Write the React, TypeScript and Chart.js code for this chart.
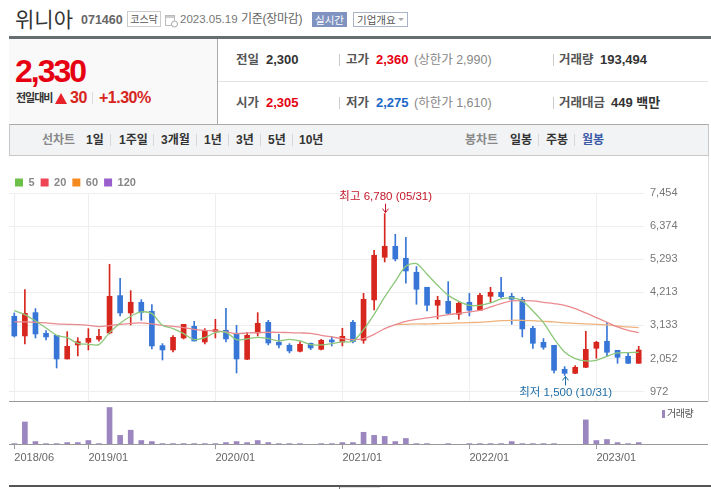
import React, { useEffect, useRef } from "react";
import { Chart, registerables } from "chart.js";

Chart.register(...registerables);

const KR = '"Liberation Sans","Noto Sans CJK KR",sans-serif';

const months: string[] = [
  "2018/06","2018/07","2018/08","2018/09","2018/10","2018/11","2018/12",
  "2019/01","2019/02","2019/03","2019/04","2019/05","2019/06","2019/07","2019/08","2019/09","2019/10","2019/11","2019/12",
  "2020/01","2020/02","2020/03","2020/04","2020/05","2020/06","2020/07","2020/08","2020/09","2020/10","2020/11","2020/12",
  "2021/01","2021/02","2021/03","2021/04","2021/05","2021/06","2021/07","2021/08","2021/09","2021/10","2021/11","2021/12",
  "2022/01","2022/02","2022/03","2022/04","2022/05","2022/06","2022/07","2022/08","2022/09","2022/10","2022/11","2022/12",
  "2023/01","2023/02","2023/03","2023/04","2023/05",
];
const xTickLabels = ["2018/06", "2019/01", "2020/01", "2021/01", "2022/01", "2023/01"];
const yTickValues = [972, 2052, 3133, 4213, 5293, 6374, 7454];

const opens = [3431,2789,3550,2876,2810,2038,2495,2582,2680,2887,4105,3539,3888,3594,2473,2332,2723,3104,2593,2930,2974,2865,
  2027,2887,3235,2582,2484,2288,2549,2353,2647,2593,3235,2647,3964,5356,5715,5324,4867,4377,3790,3920,3496,3888,
  3626,4083,4214,4083,3985,3039,2582,2484,1701,1570,1766,2386,2615,2321,2125,1896];
const highs = [3539,4301,3681,2963,2810,2930,2734,3028,3006,5128,4671,4268,3975,3811,2538,2800,3169,3267,3028,3333,3692,3137,
  2897,3550,3300,2843,2538,2604,2560,2680,2767,3039,3300,4181,5585,6780,6107,6009,5052,4377,4083,4562,3898,4181,
  4181,4377,4704,4181,4051,3104,2702,2484,1788,1820,2941,2615,3235,2321,2223,2451];
const lows = [2756,2528,2723,2658,1744,2038,2136,2332,2615,2854,3441,3148,3300,2364,2005,2266,2691,2625,2528,2723,2593,1581,
  2016,2789,2495,2397,2234,2266,2343,2332,2462,2462,2560,2549,3637,5204,5237,4508,3822,3605,3344,3485,3333,3441,
  3626,3877,4040,3169,2756,2386,2353,1581,1500,1559,1755,2060,2125,1896,1896,1896];
const closes = [2789,3528,2854,2756,2038,2451,2604,2712,2778,4083,3539,3888,3561,2462,2332,2745,3169,2625,2963,2963,2691,2038,
  2810,3202,2560,2495,2299,2517,2397,2647,2593,2778,2604,3985,5422,5715,5302,4910,4312,3790,3953,3528,3855,3626,
  4116,4214,4072,3985,3017,2549,2419,1668,1570,1766,2353,2582,2256,2092,1896,2330];

const ma5 = [3616,3485,3278,3050,2810,2734,2549,2517,2506,2897,3202,3431,3572,3518,3137,3028,2865,2669,2734,2897,2908,2669,
  2691,2745,2702,2625,2680,2625,2506,2495,2538,2593,2615,2995,3496,4062,4573,5063,5150,4801,4442,4116,3920,3790,
  3790,3866,3996,4029,3931,3605,3224,2702,2266,2049,1973,1994,2125,2234,2245,2256];
const ma20 = [3246,3246,3235,3213,3180,3169,3159,3137,3093,3126,3169,3202,3213,3180,3137,3104,3060,3006,2974,2952,2919,2865,
  2887,2897,2908,2908,2897,2887,2876,2810,2756,2702,2669,2702,2843,3028,3159,3267,3333,3376,3431,3485,3528,3572,
  3626,3735,3844,3931,3942,3931,3888,3844,3790,3681,3539,3387,3235,3082,2974,2897];
const ma60 = [...Array(36).fill(null),3159,3169,3180,3180,3191,3202,3213,3224,
  3235,3256,3289,3300,3300,3289,3267,3246,3213,3202,3180,3169,3148,3115,3082,3060];
const ma120: (number | null)[] = [];

const volumes = [400,6700,1000,400,400,700,700,1300,400,10900,2800,4300,1300,1000,400,400,400,400,400,400,700,1000,
  700,1300,700,400,400,400,100,400,400,700,700,3700,2800,2500,1000,1900,400,400,100,400,100,400,
  400,400,400,1000,400,400,400,400,100,100,7300,1300,1600,700,400,700];

const RED = "#d7261e";
const BLUE = "#3776d6";
const GRID = "#eeeeee";
const TICK = "#777777";
const LEFT = 9;
const RIGHT_GUTTER = 67;

const legendItems = [
  { text: "5", color: "#6cbf47" },
  { text: "20", color: "#ee4455" },
  { text: "60", color: "#f58a1f" },
  { text: "120", color: "#9a5fcc" },
];

const legendHeight = {
  id: "legendHeight",
  beforeInit(chart: any) {
    const fit = chart.legend.fit;
    chart.legend.fit = function () {
      fit.call(this);
      this.height = 22;
    };
  },
};

const markers = {
  id: "markers",
  afterDatasetsDraw(chart: any) {
    const { ctx, scales } = chart;
    const hi = highs.indexOf(Math.max(...highs));
    const lo = lows.indexOf(Math.min(...lows));
    const draw = (i: number, value: number, text: string, color: string, dir: number) => {
      const x = scales.x.getPixelForValue(i);
      const y = scales.y.getPixelForValue(value);
      const tip = y + dir * 1;
      const tail = y + dir * 10;
      ctx.save();
      ctx.strokeStyle = color;
      ctx.lineWidth = 1;
      ctx.beginPath();
      ctx.moveTo(Math.round(x) + 0.5, tip);
      ctx.lineTo(Math.round(x) + 0.5, tail);
      ctx.moveTo(Math.round(x) - 2.5, tip + dir * 4);
      ctx.lineTo(Math.round(x) + 0.5, tip);
      ctx.lineTo(Math.round(x) + 3.5, tip + dir * 4);
      ctx.stroke();
      ctx.fillStyle = color;
      ctx.font = `11.5px ${KR}`;
      ctx.textAlign = "center";
      ctx.textBaseline = "middle";
      ctx.fillText(text, x + 1, tail + dir * 7);
      ctx.restore();
    };
    draw(hi, highs[hi], "최고 6,780 (05/31)", "#c4162a", -1);
    draw(lo, lows[lo], "최저 1,500 (10/31)", "#1f6ea6", 1);
  },
};

const pos = (x: number, y: number, extra: React.CSSProperties = {}): React.CSSProperties => ({
  position: "absolute",
  left: x,
  top: y,
  whiteSpace: "nowrap",
  ...extra,
});

const T = ({ x, cy, size = 12, color = "#555", bold = false, sp = 0, children }: any) => (
  <span
    style={pos(x, cy - 10, {
      fontFamily: KR,
      fontSize: size,
      color,
      fontWeight: bold ? 700 : 400,
      letterSpacing: sp,
      lineHeight: "20px",
    })}
  >
    {children}
  </span>
);

const Sep = ({ x, y, h, c = "#ccc" }: any) => <div style={pos(x, y, { width: 1, height: h, background: c })} />;

export default function App() {
  const topRef = useRef<HTMLCanvasElement>(null);
  const botRef = useRef<HTMLCanvasElement>(null);

  useEffect(() => {
    const candleColor = (c: any) => (closes[c.dataIndex] >= opens[c.dataIndex] ? RED : BLUE);
    const keepTicks = (axis: any) => {
      axis.ticks = axis.ticks.filter((t: any) => xTickLabels.includes(months[t.value]));
    };
    const line = (label: string, data: any[], color: string) => ({
      type: "line" as const,
      label,
      data,
      borderColor: color,
      backgroundColor: color,
      borderWidth: 1.3,
      pointRadius: 0,
      tension: 0.3,
      order: 1,
    });
    const top = new Chart(topRef.current!, {
      type: "bar",
      data: {
        labels: months,
        datasets: [
          {
            label: "wick",
            data: lows.map((l, i) => [l, highs[i]]),
            backgroundColor: candleColor,
            barThickness: 1,
            grouped: false,
            borderSkipped: false,
            order: 3,
          },
          {
            label: "body",
            data: opens.map((o, i) => [o, closes[i]]),
            backgroundColor: candleColor,
            barThickness: 5,
            minBarLength: 2,
            grouped: false,
            borderSkipped: false,
            order: 2,
          },
          line("5", ma5, "#8cc77a"),
          line("20", ma20, "#e98a8f"),
          line("60", ma60, "#eeb27d"),
          line("120", ma120, "#b596d8"),
        ] as any,
      },
      options: {
        animation: false,
        responsive: false,
        events: [],
        layout: { padding: { left: LEFT, right: 0, top: 1, bottom: 1 } },
        plugins: {
          tooltip: { enabled: false },
          legend: {
            position: "top",
            align: "start",
            labels: {
              boxWidth: 8,
              boxHeight: 8,
              padding: 6,
              color: "#888888",
              font: { family: KR, size: 11, weight: "bold" },
              generateLabels: () =>
                legendItems.map((l) => ({
                  text: l.text,
                  fillStyle: l.color,
                  strokeStyle: l.color,
                  lineWidth: 0,
                  hidden: false,
                  fontColor: "#888888",
                })),
            },
          },
        },
        scales: {
          x: {
            type: "category",
            offset: true,
            afterBuildTicks: keepTicks,
            afterFit: (s: any) => { s.height = 0; s.paddingLeft = 0; s.paddingRight = 0; },
            ticks: { display: false, autoSkip: false },
            border: { display: false },
            grid: { color: GRID, offset: false, drawTicks: false },
          },
          y: {
            position: "right",
            min: 666,
            max: 7454,
            afterBuildTicks: (axis: any) => {
              axis.ticks = yTickValues.map((value) => ({ value }));
            },
            afterFit: (s: any) => { s.width = RIGHT_GUTTER; s.paddingTop = 0; s.paddingBottom = 0; },
            ticks: {
              padding: 6,
              color: TICK,
              font: { family: KR, size: 11 },
              callback: (v: any) => Number(v).toLocaleString("en-US"),
            },
            border: { display: false },
            grid: { color: GRID, drawTicks: false },
          },
        },
      },
      plugins: [legendHeight, markers],
    } as any);

    const bot = new Chart(botRef.current!, {
      type: "bar",
      data: {
        labels: months,
        datasets: [{ label: "거래량", data: volumes, backgroundColor: "#9b86c0", barThickness: 5 }],
      },
      options: {
        animation: false,
        responsive: false,
        events: [],
        layout: { padding: { left: LEFT, right: RIGHT_GUTTER, top: 0, bottom: 0 } },
        plugins: { legend: { display: false }, tooltip: { enabled: false } },
        scales: {
          x: {
            type: "category",
            offset: true,
            afterBuildTicks: keepTicks,
            afterFit: (s: any) => { s.height = 44; s.paddingLeft = 0; s.paddingRight = 0; },
            ticks: {
              autoSkip: false,
              maxRotation: 0,
              align: "start",
              padding: 2,
              color: "#666666",
              font: { family: KR, size: 11 },
            },
            border: { display: false },
            grid: { drawOnChartArea: false, offset: false, tickLength: 4, tickColor: "#999999" },
          },
          y: { display: false, min: 0, max: 12800 },
        },
      },
    } as any);

    return () => {
      top.destroy();
      bot.destroy();
    };
  }, []);

  return (
    <div style={pos(0, 0, { width: 711, height: 489, overflow: "hidden", background: "#fff", fontFamily: KR })}>
      {/* title bar */}
      <span style={pos(15, 3, { fontFamily: '"Noto Sans CJK KR"', fontSize: 21, color: "#333", lineHeight: "30px" })}>위니아</span>
      <T x={81} cy={20} size={12.5} color="#666" bold>071460</T>
      <div style={pos(127, 11, { width: 32, height: 14, border: "1px solid #ccc", textAlign: "center", fontFamily: '"Noto Sans CJK KR"', fontSize: 10, lineHeight: "14px", color: "#555" })}>코스닥</div>
      <svg style={pos(165, 14)} width="13" height="14" viewBox="0 0 13 14">
        <rect x="0.5" y="1.5" width="9" height="10" fill="#fff" stroke="#bbb" />
        <rect x="1" y="2" width="8" height="2" fill="#ccc" />
        <circle cx="9.5" cy="10" r="3" fill="#fff" stroke="#aaa" />
      </svg>
      <T x={180} cy={19} size={11.5} color="#777">2023.05.19</T>
      <T x={241} cy={19} size={12} color="#666" sp={-0.3}>기준(장마감)</T>
      <div style={pos(312, 12, { width: 35, height: 15, background: "#7f92c0", textAlign: "center", fontFamily: '"Noto Sans CJK KR"', fontSize: 10.5, lineHeight: "15px", color: "#fff" })}>실시간</div>
      <div style={pos(353, 12, { width: 53, height: 13, border: "1px solid #a9b4c8", fontFamily: '"Noto Sans CJK KR"', fontSize: 10.5, lineHeight: "13px", color: "#555", paddingLeft: 0 })}>
        <span style={{ marginLeft: 3 }}>기업개요</span>
      </div>
      <div style={pos(398, 18, { width: 0, height: 0, borderLeft: "3px solid transparent", borderRight: "3px solid transparent", borderTop: "3px solid #aaa" })} />

      {/* summary */}
      <div style={pos(9, 36, { width: 702, height: 3, background: "#666e70" })} />
      <div style={pos(9, 39, { width: 208, height: 85, background: "#f9f9f9" })} />
      <Sep x={217} y={39} h={85} c="#aaa" />
      <div style={pos(218, 81, { width: 490, height: 1, background: "#e2e2e2" })} />
      <span style={pos(15, 52, { fontFamily: KR, fontWeight: 700, fontSize: 32, letterSpacing: -2, color: "#e60012", lineHeight: "38px" })}>2,330</span>
      <T x={16} cy={98} size={11} color="#333" bold sp={-1}>전일대비</T>
      <div style={pos(55, 93, { width: 0, height: 0, borderLeft: "6.5px solid transparent", borderRight: "6.5px solid transparent", borderBottom: "11px solid #e8222a" })} />
      <T x={70} cy={98} size={16} color="#d7261e" bold sp={-0.5}>30</T>
      <Sep x={92} y={92} h={12} c="#ddd" />
      <T x={99} cy={98} size={16} color="#d7261e" bold sp={-0.5}>+1.30%</T>

      <T x={236} cy={60} color="#555" size={12.5} bold>전일</T>
      <T x={266} cy={60} size={13} color="#333" bold>2,300</T>
      <Sep x={339} y={54} h={12} />
      <T x={346} cy={60} color="#555" size={12.5} bold>고가</T>
      <T x={376} cy={60} size={13} color="#e60012" bold>2,360</T>
      <T x={414} cy={60} size={12.5} color="#888">(상한가 2,990)</T>
      <Sep x={553} y={54} h={12} />
      <T x={559} cy={60} color="#555" size={12.5} bold>거래량</T>
      <T x={600} cy={60} size={13} color="#333" bold>193,494</T>

      <T x={236} cy={103} color="#555" size={12.5} bold>시가</T>
      <T x={266} cy={103} size={13} color="#e60012" bold>2,305</T>
      <Sep x={339} y={97} h={12} />
      <T x={346} cy={103} color="#555" size={12.5} bold>저가</T>
      <T x={376} cy={103} size={13} color="#1a68c8" bold>2,275</T>
      <T x={414} cy={103} size={12.5} color="#888">(하한가 1,610)</T>
      <Sep x={553} y={97} h={12} />
      <T x={559} cy={103} color="#555" size={12.5} bold>거래대금</T>
      <T x={611} cy={103} size={13} color="#333" bold>449 백만</T>

      {/* toolbar */}
      <div style={pos(9, 124, { width: 698, height: 30, background: "#f2f3f5", border: "1px solid #c8c8c8", borderTopColor: "#aaa" })} />
      <T x={42} cy={140} size={12} color="#888" bold>선차트</T>
      {[["1일", 86], ["1주일", 119], ["3개월", 161], ["1년", 204], ["3년", 236], ["5년", 268], ["10년", 299]].map(([t, x]) => (
        <T key={t as string} x={x} cy={140} size={12} color="#333" bold>{t}</T>
      ))}
      {[110, 153, 196, 228, 260, 292].map((x) => <Sep key={x} x={x} y={134} h={12} c="#d8d8d8" />)}
      <T x={465} cy={140} size={12} color="#888" bold>봉차트</T>
      <T x={510} cy={140} size={12} color="#333" bold>일봉</T>
      <Sep x={538} y={134} h={12} c="#d8d8d8" />
      <T x={546} cy={140} size={12} color="#333" bold>주봉</T>
      <Sep x={574} y={134} h={12} c="#d8d8d8" />
      <T x={582} cy={140} size={12} color="#3b5aa8" bold>월봉</T>

      {/* chart frame */}
      <Sep x={708} y={156} h={245} c="#dddddd" />
      <canvas ref={topRef} width={711} height={232} style={pos(0, 170, { display: "block", width: 711, height: 232 })} />
      <canvas ref={botRef} width={711} height={88} style={pos(0, 401, { display: "block", width: 711, height: 88 })} />
      <div style={pos(9, 401, { width: 699, height: 1, background: "#999" })} />
      <div style={pos(9, 444, { width: 699, height: 1, background: "#999" })} />
      <div style={pos(662, 410, { width: 3, height: 8, background: "#9b86c0" })} />
      <T x={667} cy={414} size={10} color="#555" sp={-0.5}>거래량</T>
      <div style={pos(9, 485, { width: 702, height: 2, background: "#555" })} />
      <div style={pos(339, 487, { width: 1, height: 2, background: "#777" })} />
      <div style={pos(340, 487, { width: 40, height: 1, background: "#ddd" })} />
    </div>
  );
}
